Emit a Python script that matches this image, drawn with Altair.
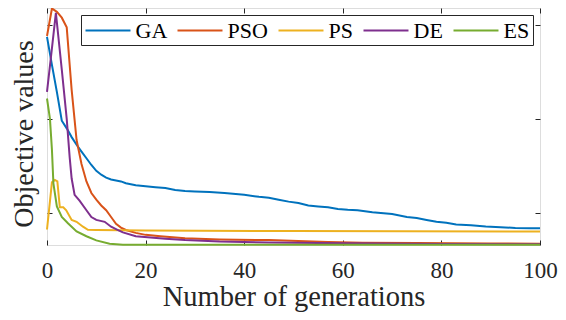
import altair as alt
import pandas as pd

series = ["GA", "PSO", "PS", "DE", "ES"]
colors = ["#0072BD", "#D95319", "#EDB120", "#7E2F8E", "#77AC30"]
x_ticks = [0, 20, 40, 60, 80, 100]
y_ticks = [1, 2, 3]

ga_gen = [0, 1, 2, 3, 4, 5, 6, 7, 8, 9, 10, 11, 12, 13, 14, 15, 16, 17, 18, 20, 22, 24, 26, 28, 30,
          33, 36, 40, 43, 45, 47, 49, 51, 53, 55, 57, 59, 61, 63, 66, 70, 73, 75, 77, 79, 81, 83,
          86, 89, 92, 95, 98, 100]
ga_val = [2.877, 2.579, 2.292, 1.985, 1.903, 1.810, 1.728, 1.656, 1.585, 1.513, 1.451, 1.410,
          1.379, 1.359, 1.349, 1.338, 1.318, 1.308, 1.297, 1.287, 1.277, 1.267, 1.246, 1.236,
          1.231, 1.226, 1.215, 1.195, 1.174, 1.164, 1.144, 1.123, 1.108, 1.082, 1.072, 1.062,
          1.044, 1.036, 1.031, 1.010, 0.990, 0.959, 0.949, 0.928, 0.908, 0.897, 0.880, 0.872,
          0.859, 0.851, 0.843, 0.840, 0.839]

pso_gen = [0, 1, 2, 3, 4, 5, 6, 7, 8, 9, 10, 11, 12, 13, 14, 15, 16, 18, 20, 23, 28, 35, 45,
           57, 64, 75, 90, 100]
pso_val = [2.887, 3.180, 3.144, 3.082, 2.979, 2.313, 1.779, 1.523, 1.338, 1.215, 1.144, 1.082,
           1.031, 0.959, 0.887, 0.846, 0.821, 0.790, 0.769, 0.754, 0.733, 0.720, 0.713, 0.692,
           0.685, 0.682, 0.677, 0.674]

ps_gen = [0, 1, 1.6, 2.1, 2.6, 3.3, 3.9, 5, 6, 7.3, 8.3, 10, 20, 50, 100]
ps_val = [0.826, 1.328, 1.354, 1.338, 1.062, 1.062, 1.031, 0.928, 0.908, 0.856, 0.823, 0.821,
          0.815, 0.810, 0.805]

de_gen = [0, 1, 1.8, 3, 4, 4.6, 5, 5.6, 6.6, 8, 9, 10, 11.7, 13, 14.3, 15.4, 18, 24, 28, 35,
          45, 60, 80, 100]
de_val = [2.292, 2.754, 3.133, 2.528, 2.005, 1.595, 1.369, 1.195, 1.133, 1.031, 0.959, 0.928,
          0.908, 0.856, 0.823, 0.795, 0.754, 0.728, 0.713, 0.697, 0.687, 0.679, 0.672, 0.669]

es_gen = [0, 0.6, 1, 1.3, 2, 3, 4.3, 6, 8, 10, 12.7, 15.4, 20, 100]
es_val = [2.221, 2.005, 1.677, 1.318, 1.072, 0.959, 0.890, 0.805, 0.754, 0.710, 0.675, 0.664,
          0.663, 0.663]

rows = []
for i, (name, gs, vs) in enumerate(zip(series,
                                       [ga_gen, pso_gen, ps_gen, de_gen, es_gen],
                                       [ga_val, pso_val, ps_val, de_val, es_val])):
    for g, v in zip(gs, vs):
        rows.append({"gen": g, "val": v, "alg": name, "k": i})
df = pd.DataFrame(rows)

FONT = "Liberation Serif"
INK = "#262626"

xscale = alt.Scale(domain=[0, 100], nice=False)
yscale = alt.Scale(domain=[0.661, 3.185], nice=False, zero=False)

lines = alt.Chart(df).mark_line(strokeWidth=2).encode(
    x=alt.X("gen:Q", scale=xscale,
            axis=alt.Axis(values=x_ticks, title="Number of generations", orient="bottom",
                          offset=-5, tickSize=5, domain=False, labelPadding=14,
                          labelFlush=False, labelOverlap=False,
                          labelFont=FONT, labelFontSize=23, labelColor=INK,
                          titleFont=FONT, titleFontSize=28.5, titleFontWeight="normal",
                          titleColor=INK, titlePadding=0, grid=False, tickColor=INK)),
    y=alt.Y("val:Q", scale=yscale,
            axis=alt.Axis(values=y_ticks, title="Objective values", orient="left",
                          offset=-5, tickSize=5, domain=False, labels=False,
                          titleFont=FONT, titleFontSize=28, titleFontWeight="normal",
                          titleColor=INK, titlePadding=8, titleY=125.5,
                          grid=False, tickColor=INK)),
    color=alt.Color("alg:N", sort=series,
                    scale=alt.Scale(domain=series, range=colors),
                    legend=alt.Legend(orient="none", legendX=34, legendY=7,
                                      direction="horizontal", columns=5, title=None,
                                      symbolType="M-1,0H3.09", symbolSize=484,
                                      symbolStrokeWidth=2, labelFont=FONT,
                                      labelFontSize=22, labelColor="black", labelOffset=27,
                                      symbolOffset=0,
                                      columnPadding=6, padding=3.5, strokeColor=INK,
                                      fillColor="white")),
    order=alt.Order("k:Q"),
    detail="alg:N",
)

frame = alt.Chart(df).mark_line(opacity=0).encode(
    x=alt.X("gen:Q", scale=xscale,
            axis=alt.Axis(values=x_ticks, title=None, orient="top", labels=False,
                          offset=-5, tickSize=5, domain=False, grid=False, tickColor=INK)),
    y=alt.Y("val:Q", scale=yscale,
            axis=alt.Axis(values=y_ticks, title=None, orient="right", labels=False,
                          offset=-5, tickSize=5, domain=False, grid=False, tickColor=INK)),
    detail="alg:N",
)

chart = alt.layer(frame, lines).resolve_axis(x="independent", y="independent").properties(
    width=493, height=237,
    autosize=alt.AutoSizeParams(type="none"),
    padding={"left": 39, "top": 0, "right": 18, "bottom": 67},
).configure_view(stroke=INK, strokeWidth=1).configure(background="white")

chart.save("out.html", embed_options={"renderer": "svg", "actions": False})
